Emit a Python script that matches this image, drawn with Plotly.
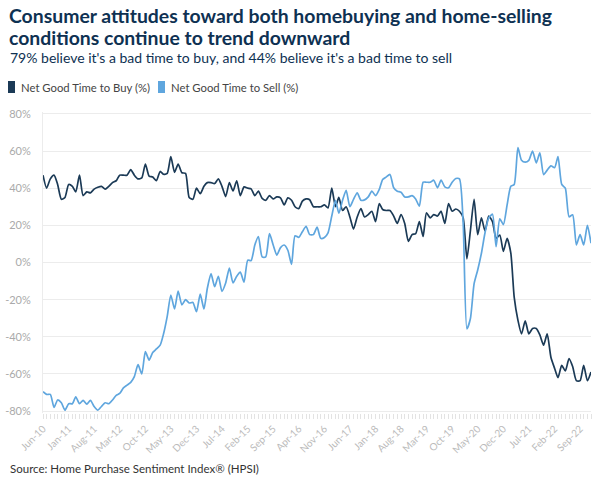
import pandas as pd
import plotly.graph_objects as go

# ---------------- data ----------------
start_month = "2010-06-01"
end_month = "2022-12-01"
months = pd.date_range(start_month, end_month, freq="MS")

net_buy = [
    47, 40, 45, 47, 42, 34, 35, 42, 41, 38,
    47, 36, 38, 37.5, 39.5, 40.5, 41, 39.5, 41, 43,
    44, 47, 47, 47, 50, 47, 45, 45.5, 53, 46.5,
    46, 44, 49, 47.5, 48, 57, 48.5, 53, 48.3, 48,
    35, 34, 40, 37, 41, 43, 43, 42.5, 45, 41,
    35.5, 43, 38.5, 44, 36, 40.7, 40, 39.6, 36, 38.4,
    34.5, 33.5, 36, 34.2, 35.3, 34.8, 31, 34.8, 33.5, 30,
    29, 33, 34.2, 33.8, 30, 30, 30, 31, 29.4, 40,
    30, 35, 28, 30, 24.5, 18, 24.5, 29, 24.5, 25.8,
    27.6, 22, 31.7, 28.5, 28, 28, 25, 21, 25.8, 21,
    11.4, 15, 15.5, 22, 14, 26.7, 24, 25.8, 25, 27.6,
    21, 31.7, 27.6, 28.8, 27.6, 24, 2, 17, 34, 15,
    24, 17, 25, 22, 13, 14.8, 6, 13, 5, -18.6,
    -31, -38.4, -31.4, -38.4, -35.5, -35.5, -39, -44.5, -38.4, -51,
    -57, -62, -55.4, -58.4, -51.7, -56, -63.6, -63.6, -55.4, -63.6, -59,
]

net_sell = [
    -69.5, -71, -71, -78, -74, -75.5, -79.5, -76, -76, -72.3,
    -76, -74.2, -76.2, -74.2, -77.5, -79.5, -77.5, -75.5, -76, -74,
    -71.5, -70.5, -67.5, -66, -64.5, -61.4, -55, -60, -48, -52.5,
    -48.5, -46.5, -44.5, -38.5, -29, -17.5, -25, -15.4, -22.8, -20,
    -21.8, -21.5, -26.5, -17, -25, -14, -6, -13, -7.4, -15.5,
    -11, -3, -11, -7.4, -5.2, -10.6, 1.3, 1, 9.4, 14,
    3, 3, 15.5, 9.4, 4, 8, 9.4, 6.6, -1, 14.4,
    13.5, 16.5, 19.5, 15, 15, 19, 13, 13.5, 16, 25,
    33.5, 26.5, 33.5, 38.8, 30, 34, 37.5, 33.5, 33.7, 35.3,
    38.4, 36, 39.3, 44.7, 46.1, 47.4, 40.2, 38.4, 37.8, 35.3,
    35.3, 36, 34.2, 30.3, 43.2, 43.2, 43.2, 44.3, 40.2, 44.3,
    40.7, 40.2, 43.2, 45.2, 45, 21, -35.7, -30.3, -11.4, -4,
    5, 16, 24, 26, 8.5, 23.5, 20.4, 31, 41, 42,
    61.8, 55, 54, 55, 60, 53.6, 59, 47.3, 49.7, 52,
    51, 57, 42, 40, 24.6, 25.7, 9.5, 15, 9.5, 20, 10.4,
]

tick_labels = ["Jun-10", "Jan-11", "Aug-11", "Mar-12", "Oct-12", "May-13", "Dec-13",
               "Jul-14", "Feb-15", "Sep-15", "Apr-16", "Nov-16", "Jun-17", "Jan-18",
               "Aug-18", "Mar-19", "Oct-19", "May-20", "Dec-20", "Jul-21", "Feb-22",
               "Sep-22"]
y_ticks = [-80, -60, -40, -20, 0, 20, 40, 60, 80]
y_tick_text = [f"{v}%" for v in y_ticks]

title_lines = ["Consumer attitudes toward both homebuying and home-selling",
               "conditions continue to trend downward"]
subtitle = "79% believe it's a bad time to buy, and 44% believe it's a bad time to sell"
source_text = "Source: Home Purchase Sentiment Index® (HPSI)"
series_names = ["Net Good Time to Buy (%)", "Net Good Time to Sell (%)"]

BUY_COLOR = "#1b3a56"
SELL_COLOR = "#5fa6de"
TITLE_COLOR = "#0e3152"

# ---------------- layout geometry ----------------
W, H = 600, 487
L, R, T, B = 43, 9, 112, 74
PW, PH = W - L - R, H - T - B


def px(x):
    return (x - L) / PW


def py(y):
    return 1 - (y - T) / PH


tick_dates = pd.to_datetime(tick_labels, format="%b-%y")

fig = go.Figure()
fig.add_trace(go.Scatter(x=months, y=net_buy, name=series_names[0], mode="lines",
                         line=dict(color=BUY_COLOR, width=1.7, shape="spline", smoothing=0.6),
                         showlegend=False))
fig.add_trace(go.Scatter(x=months, y=net_sell, name=series_names[1], mode="lines",
                         line=dict(color=SELL_COLOR, width=1.7, shape="spline", smoothing=0.6),
                         showlegend=False))

FONT = "Lato, 'Source Sans Pro', 'Open Sans', sans-serif"

annotations = []
for line_text, cy in zip(title_lines, [15, 38]):
    annotations.append(dict(text=f"<b>{line_text}</b>", x=px(7), y=py(cy),
                            xref="paper", yref="paper", xanchor="left", yanchor="middle",
                            showarrow=False, font=dict(size=19.4, color=TITLE_COLOR, family=FONT)))
annotations += [
    dict(text=subtitle, x=px(8), y=py(58), xref="paper", yref="paper",
         xanchor="left", yanchor="middle", showarrow=False,
         font=dict(size=14, color=TITLE_COLOR, family=FONT)),
    dict(text=source_text, x=px(8), y=py(468), xref="paper", yref="paper",
         xanchor="left", yanchor="middle", showarrow=False,
         font=dict(size=11.5, color="#333333", family=FONT)),
]
shapes = []
legend_items = [(8, BUY_COLOR, series_names[0]), (158, SELL_COLOR, series_names[1])]
for lx, col, name in legend_items:
    shapes.append(dict(type="rect", xref="paper", yref="paper",
                       x0=px(lx), x1=px(lx + 7), y0=py(93), y1=py(81),
                       fillcolor=col, line=dict(width=0)))
    annotations.append(dict(text=name, x=px(lx + 11), y=py(87), xref="paper", yref="paper",
                            xanchor="left", yanchor="middle", showarrow=False,
                            font=dict(size=11.3, color="#444444", family=FONT)))

fig.update_layout(
    width=W, height=H,
    margin=dict(l=L, r=R, t=T, b=B, pad=0),
    paper_bgcolor="white", plot_bgcolor="white",
    font=dict(family=FONT),
    annotations=annotations,
    shapes=shapes,
    showlegend=False,
)

fig.update_xaxes(
    range=[months[0], months[-1]],
    tickvals=tick_dates, ticktext=tick_labels, tickangle=-45,
    tickfont=dict(size=10, color="#bbbbbb", family=FONT),
    ticks="outside", ticklen=5, tickcolor="#e3e3e3",
    minor=dict(dtick="M1", ticks="outside", ticklen=5, tickcolor="#e3e3e3", showgrid=False),
    showgrid=False, showline=False, zeroline=False, automargin=False,
)
fig.update_yaxes(
    range=[-81, 81], tickvals=y_ticks, ticktext=y_tick_text,
    tickfont=dict(size=11, color="#aaaaaa", family=FONT),
    ticks="outside", ticklen=9, tickcolor="rgba(0,0,0,0)",
    showgrid=True, gridcolor="#ececec", gridwidth=1,
    showline=True, linecolor="#ececec", zeroline=False, automargin=False,
)

fig.write_html("out.html", config={"displayModeBar": False},
               post_script="document.body.style.margin='0px';document.body.style.padding='0px';")
